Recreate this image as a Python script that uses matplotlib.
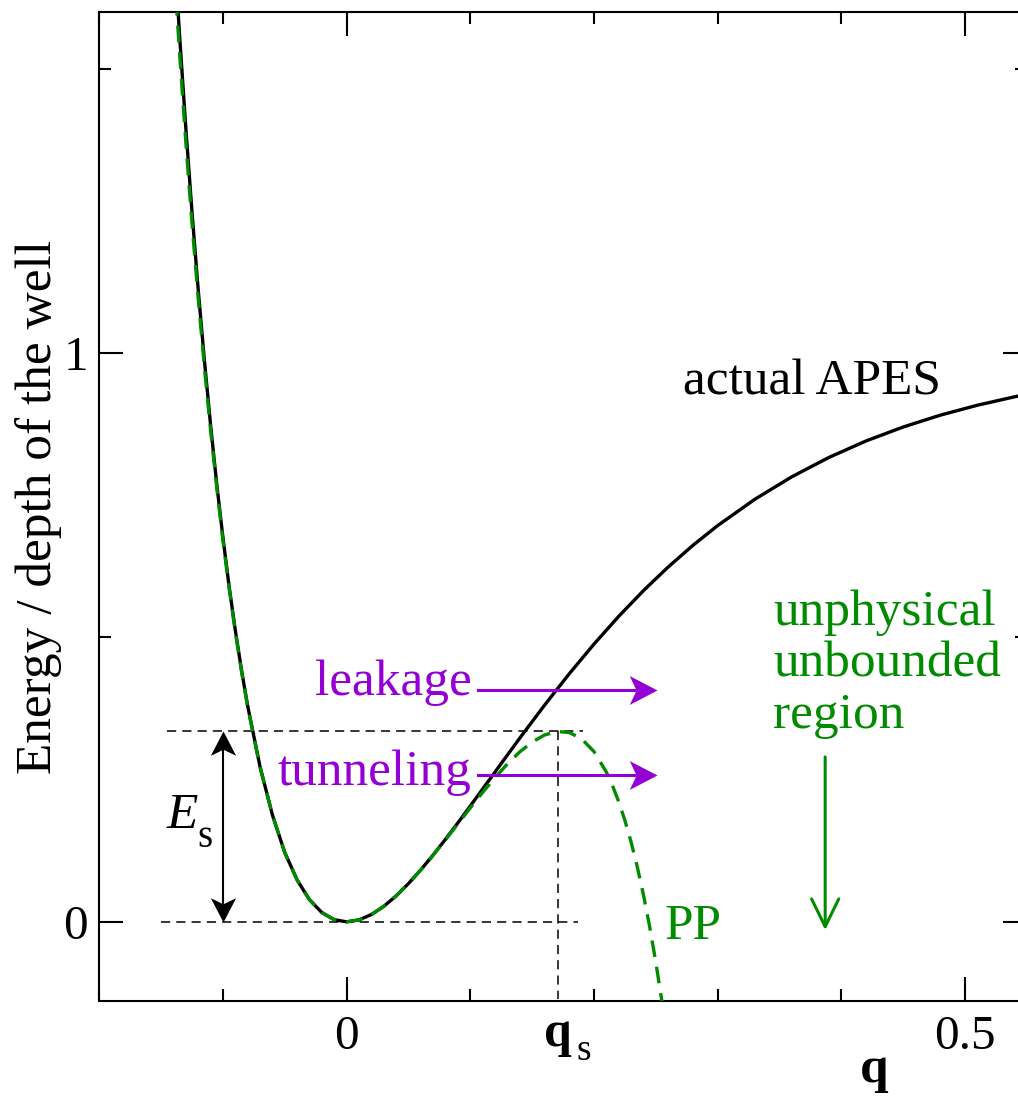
import matplotlib
matplotlib.use("Agg")
import matplotlib.pyplot as plt
from matplotlib.path import Path
from matplotlib.ticker import FixedLocator, MultipleLocator

plt.rcParams['font.family'] = ['Liberation Serif', 'DejaVu Serif']

GREEN = '#008b00'
PURPLE = '#9400d3'

# actual APES (black solid curve)
apes_q = [-0.14, -0.135, -0.13, -0.125, -0.12, -0.115, -0.11, -0.105, -0.10,
          -0.095, -0.09, -0.085, -0.08, -0.07, -0.06, -0.05, -0.04, -0.03,
          -0.02, -0.01, 0.0, 0.01, 0.02, 0.03, 0.04, 0.05, 0.06, 0.07, 0.08,
          0.09, 0.10, 0.12, 0.14, 0.16, 0.18, 0.20, 0.22, 0.24, 0.26, 0.28,
          0.30, 0.33, 0.36, 0.39, 0.42, 0.45, 0.48, 0.51, 0.54, 0.55]
apes_v = [1.733, 1.557, 1.396, 1.248, 1.112, 0.988, 0.874, 0.770, 0.676,
          0.590, 0.513, 0.443, 0.380, 0.273, 0.188, 0.122, 0.0736, 0.0389,
          0.0163, 0.0038, 0.0, 0.0034, 0.0128, 0.0271, 0.0455, 0.0672, 0.0914,
          0.1176, 0.1453, 0.1741, 0.2036, 0.2634, 0.3230, 0.3808, 0.4361,
          0.4883, 0.5371, 0.5823, 0.6239, 0.6620, 0.6967, 0.7429, 0.7826,
          0.8166, 0.8456, 0.8701, 0.8909, 0.9084, 0.9232, 0.9276]

# polynomial potential PP (green dashed curve)
pp_q = [-0.14, -0.135, -0.13, -0.125, -0.12, -0.115, -0.11, -0.105, -0.10,
        -0.095, -0.09, -0.085, -0.08, -0.07, -0.06, -0.05, -0.04, -0.03,
        -0.02, -0.01, 0.0, 0.01, 0.02, 0.03, 0.04, 0.05, 0.06, 0.07, 0.08,
        0.09, 0.10, 0.11, 0.12, 0.13, 0.14, 0.15, 0.16, 0.17, 0.18, 0.19,
        0.20, 0.21, 0.215, 0.22, 0.225, 0.23, 0.235, 0.24, 0.245, 0.25,
        0.255, 0.26]
pp_v = [1.693, 1.526, 1.371, 1.228, 1.097, 0.976, 0.865, 0.764, 0.671,
        0.587, 0.510, 0.441, 0.378, 0.272, 0.188, 0.122, 0.0736, 0.0389,
        0.0163, 0.0038, 0.0, 0.0034, 0.0128, 0.0271, 0.0455, 0.0671, 0.0912,
        0.1172, 0.1444, 0.1723, 0.2002, 0.2275, 0.2535, 0.2776, 0.2988,
        0.3161, 0.3285, 0.3346, 0.3330, 0.3219, 0.2995, 0.2636, 0.2397,
        0.2115, 0.1787, 0.1407, 0.0973, 0.0479, -0.0078, -0.0703, -0.1402,
        -0.2181]

q_s = 0.171
E_s = 0.335
x_ticks = [0, 0.5]
x_ticklabels = ['0', '0.5']
y_ticks = [0, 1]
y_ticklabels = ['0', '1']
region_lines = ['unphysical', 'unbounded', 'region']
region_baselines = [0.522, 0.431, 0.341]


def stealth(direction):
    """Concave arrowhead marker with its tip at the origin."""
    verts = [(0, 0), (-1, 0.52), (-0.75, 0), (-1, -0.52), (0, 0)]
    if direction == 'up':
        verts = [(y, x) for x, y in verts]
    elif direction == 'down':
        verts = [(y, -x) for x, y in verts]
    return Path(verts, closed=True)


fig = plt.figure(figsize=(10.18, 10.97), dpi=100)
ax = fig.add_axes([0.0975, 0.0871, 0.9111, 0.9020])
ax.set_xlim(-0.2, 0.55)
ax.set_ylim(-0.14, 1.6)

ax.plot(apes_q, apes_v, color='black', lw=2.4, zorder=3)
ax.plot(pp_q, pp_v, color=GREEN, lw=2.4, dashes=(5, 3), zorder=4)

# guide lines for E_s and q_s
ax.plot([-0.145, 0.191], [E_s, E_s], color='black', lw=1.1, dashes=(6, 4), zorder=2)
ax.plot([-0.150, 0.187], [0, 0], color='black', lw=1.1, dashes=(6, 4), zorder=2)
ax.plot([q_s, q_s], [E_s, -0.135], color='black', lw=1.1, dashes=(6, 4), zorder=2)

# double arrow for E_s
ax.plot([-0.1003, -0.1003], [0.02, E_s - 0.02], color='black', lw=1.5, zorder=5)
ax.plot([-0.1003], [E_s], marker=stealth('up'), ms=35, mew=0, color='black', zorder=5)
ax.plot([-0.1003], [0], marker=stealth('down'), ms=35, mew=0, color='black', zorder=5)
ax.text(-0.1453, 0.165, 'E', style='italic', fontsize=37, va='baseline')
ax.text(-0.1205, 0.132, 's', fontsize=28, va='baseline')

# leakage / tunneling arrows
for label, y, yb in [('leakage', 0.408, 0.399), ('tunneling', 0.258, 0.2405)]:
    ax.plot([0.106, 0.240], [y, y], color=PURPLE, lw=2.2, zorder=5)
    ax.plot([0.251], [y], marker=stealth('right'), ms=40, mew=0, color=PURPLE, zorder=5)
    ax.text(0.101, yb, label, fontsize=37, color=PURPLE, ha='right', va='baseline')

ax.text(0.272, 0.927, 'actual APES', fontsize=37, va='baseline')
ax.text(0.257, -0.030, 'PP', fontsize=37, color=GREEN, va='baseline')
for line, yb in zip(region_lines, region_baselines):
    ax.text(0.345, yb, line, fontsize=37, color=GREEN, va='baseline')
ax.annotate('', xy=(0.387, -0.0146), xytext=(0.387, 0.29),
            arrowprops=dict(arrowstyle='->,head_length=1.0,head_width=0.49',
                            color=GREEN, lw=2.2, shrinkA=0, shrinkB=0,
                            mutation_scale=20))

# axes, ticks
ax.xaxis.set_major_locator(FixedLocator(x_ticks))
ax.set_xticklabels(x_ticklabels)
ax.xaxis.set_minor_locator(MultipleLocator(0.1))
ax.yaxis.set_major_locator(FixedLocator(y_ticks))
ax.set_yticklabels(y_ticklabels)
ax.yaxis.set_minor_locator(MultipleLocator(0.5))
ax.tick_params(which='both', direction='in', top=True, right=True, width=1.5,
               labelsize=35.5)
ax.tick_params(which='major', length=17.3)
ax.tick_params(which='minor', length=8.6)
ax.tick_params(axis='x', pad=9.5)
ax.tick_params(axis='y', pad=8)
for sp in ax.spines.values():
    sp.set_linewidth(1.5)

xt = ax.get_xaxis_transform()
ax.text(0.160, -0.045, 'q', fontsize=36, fontweight='bold', transform=xt,
        ha='left', va='baseline')
ax.text(0.1862, -0.0591, 's', fontsize=27, transform=xt, ha='left', va='baseline')
ax.text(0.820, -0.0814, 'q', fontsize=37, fontweight='bold',
        transform=ax.transAxes, ha='left', va='baseline')
ax.set_ylabel('Energy / depth of the well', fontsize=37, family='Liberation Serif')
ax.yaxis.set_label_coords(-0.040, 0.5)

fig.savefig('out.png', dpi=100)
